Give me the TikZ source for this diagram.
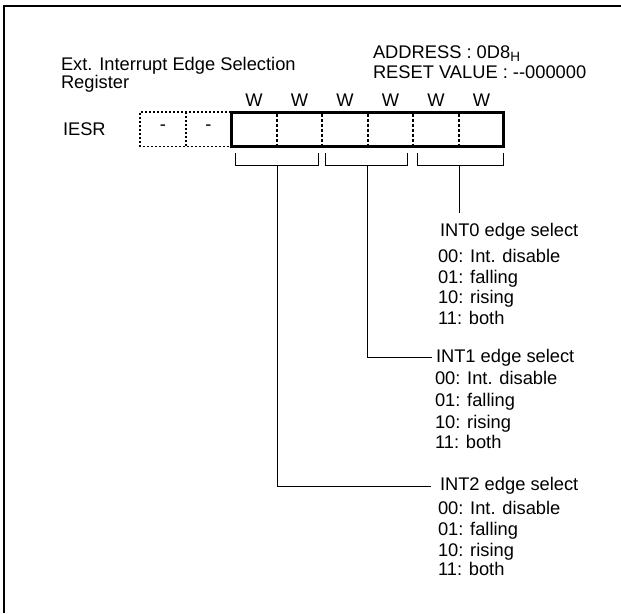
\documentclass[tikz,border=0pt]{standalone}
\usepackage{fontspec}
\setmainfont{Liberation Sans}
\begin{document}
\begin{tikzpicture}[x=1pt,y=-1pt,
  txt/.style={inner sep=0pt,outer sep=0pt,font=\fontsize{18.3}{20}\selectfont},
  lbl/.style={txt,anchor=base west},
  wlbl/.style={txt,anchor=base},
  bitsolid/.style={line width=3pt},
  bitdash/.style={line width=1.5pt,dash pattern=on 3pt off 2pt},
  bitdot/.style={line width=1.5pt,dash pattern=on 2pt off 2pt},
  brk/.style={line width=0.9pt},
  frame/.style={line width=2pt}]
\useasboundingbox (0,0) rectangle (621,613);
% frame (only top and left visible)
\draw[frame] (4,613) -- (4,6) -- (621,6);
% header
\node[lbl] (title1) at (61,70) {Ext. Interrupt Edge Selection};
\node[lbl] (title2) at (61,88.5) {Register};
\node[lbl] (addr) at (373,58) {ADDRESS : 0D8\raisebox{-0.35ex}{\fontsize{13.5}{14}\selectfont H}};
\node[lbl] (rst) at (373,78.5) {RESET VALUE : {-}{-}000000};
\node[lbl] (iesr) at (63,135) {IESR};
% W labels
\foreach \c in {254,299.5,345,390.5,436,481.5}{
  \node[wlbl] at (\c,106) {W};
}
% dotted unused bits
\draw[bitdot] (231,112) -- (140,112) -- (140,146.5) -- (231,146.5);
\draw[bitdot] (186,112) -- (186,146.5);
\node[txt] (d7) at (163,128) {-};
\node[txt] (d6) at (208.5,128) {-};
% solid register box
\foreach \x in {277,322,368,413,459}{
  \draw[bitdash] (\x,113.5) -- (\x,145);
}
\draw[bitsolid] (231,112) rectangle (503.5,146.5);
% brackets
\draw[brk] (235,153) -- (235,165) -- (318,165) -- (318,153);
\draw[brk] (325,153) -- (325,165) -- (407,165) -- (407,153);
\draw[brk] (417,153) -- (417,165) -- (503,165) -- (503,153);
\coordinate (b2) at (277,165);
\coordinate (b1) at (367,165);
\coordinate (b0) at (459,165);
% INT0
\node[lbl] (int0) at (440,236.5) {INT0 edge select};
\node[lbl] at (438,262.5) {00: Int. disable};
\node[lbl] at (438,283) {01: falling};
\node[lbl] at (438,303.5) {10: rising};
\node[lbl] at (438,324) {11: both};
\coordinate (e0) at (459,213);
\draw[brk] (b0) -- (e0);
% INT1
\node[lbl] (int1) at (436,362) {INT1 edge select};
\node[lbl] at (435,384.5) {00: Int. disable};
\node[lbl] at (435,406) {01: falling};
\node[lbl] at (435,428) {10: rising};
\node[lbl] at (435,448.5) {11: both};
\coordinate (e1) at (432,357);
\draw[brk] (b1) |- (e1);
% INT2
\node[lbl] (int2) at (440,490.5) {INT2 edge select};
\node[lbl] at (438,514.5) {00: Int. disable};
\node[lbl] at (438,535.5) {01: falling};
\node[lbl] at (438,556.5) {10: rising};
\node[lbl] at (438,575.5) {11: both};
\coordinate (e2) at (431,486);
\draw[brk] (b2) |- (e2);
\end{tikzpicture}
\end{document}
